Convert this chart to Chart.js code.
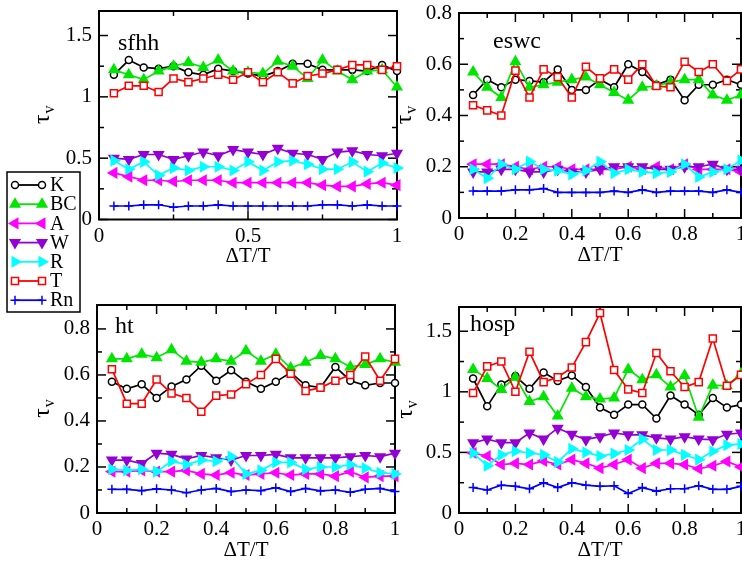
<!DOCTYPE html>
<html>
<head>
<meta charset="UTF-8">
<title>tau_v vs dT/T</title>
<script src="https://cdn.jsdelivr.net/npm/chart.js@4"></script>
<style>
  body { margin: 0; background: #fff; overflow: hidden; }
  #wrap { position: relative; width: 742px; height: 562px; }
  canvas { position: absolute; left: 0; top: 0; }
</style>
</head>
<body>
<div id="wrap">
  <canvas id="c1" width="742" height="562"></canvas>
  <canvas id="c2" width="742" height="562"></canvas>
  <canvas id="c3" width="742" height="562"></canvas>
  <canvas id="c4" width="742" height="562"></canvas>
</div>
<script>
// x values (Delta T / T)
const dT = [0.05, 0.10, 0.15, 0.20, 0.25, 0.30, 0.35, 0.40, 0.45, 0.50,
            0.55, 0.60, 0.65, 0.70, 0.75, 0.80, 0.85, 0.90, 0.95, 1.00];
const seriesNames = ['K', 'BC', 'A', 'W', 'R', 'T', 'Rn'];

// sfhh
const sfhhK  = [1.18,1.30,1.24,1.23,1.25,1.20,1.18,1.23,1.21,1.19,1.17,1.21,1.27,1.27,1.22,1.22,1.22,1.21,1.26,1.21];
const sfhhBC = [1.22,1.18,1.14,1.21,1.25,1.28,1.24,1.30,1.21,1.20,1.19,1.29,1.25,1.15,1.30,1.21,1.14,1.21,1.22,1.08];
const sfhhA  = [0.38,0.35,0.32,0.32,0.31,0.32,0.32,0.32,0.30,0.30,0.30,0.30,0.30,0.30,0.28,0.27,0.27,0.29,0.30,0.28];
const sfhhW  = [0.50,0.49,0.53,0.53,0.49,0.52,0.55,0.52,0.57,0.55,0.53,0.58,0.54,0.53,0.49,0.55,0.56,0.53,0.52,0.54];
const sfhhR  = [0.48,0.41,0.47,0.36,0.42,0.40,0.43,0.43,0.40,0.47,0.40,0.47,0.48,0.45,0.41,0.41,0.47,0.39,0.46,0.42];
const sfhhT  = [1.03,1.09,1.09,1.04,1.15,1.12,1.15,1.18,1.14,1.20,1.12,1.20,1.11,1.17,1.19,1.22,1.26,1.26,1.22,1.25];
const sfhhRn = [0.11,0.11,0.12,0.12,0.10,0.11,0.11,0.12,0.11,0.11,0.11,0.11,0.11,0.11,0.12,0.12,0.11,0.12,0.11,0.11];

// eswc
const eswcK  = [0.48,0.54,0.51,0.54,0.535,0.53,0.58,0.50,0.50,0.54,0.51,0.60,0.57,0.52,0.54,0.46,0.52,0.52,0.54,0.52];
const eswcBC = [0.57,0.51,0.47,0.61,0.51,0.52,0.53,0.54,0.55,0.52,0.49,0.46,0.51,0.515,0.53,0.54,0.54,0.48,0.46,0.48];
const eswcA  = [0.21,0.21,0.21,0.20,0.19,0.20,0.20,0.19,0.19,0.19,0.19,0.20,0.19,0.20,0.19,0.21,0.19,0.19,0.19,0.18];
const eswcW  = [0.18,0.18,0.19,0.19,0.18,0.18,0.19,0.18,0.18,0.19,0.20,0.20,0.20,0.19,0.19,0.20,0.20,0.21,0.19,0.19];
const eswcR  = [0.19,0.155,0.21,0.19,0.22,0.19,0.185,0.17,0.185,0.22,0.175,0.19,0.18,0.175,0.18,0.21,0.16,0.18,0.19,0.225];
const eswcT  = [0.44,0.42,0.40,0.575,0.47,0.58,0.55,0.47,0.59,0.545,0.58,0.54,0.60,0.515,0.51,0.61,0.57,0.60,0.535,0.58];
const eswcRn = [0.105,0.105,0.105,0.11,0.11,0.115,0.10,0.10,0.10,0.10,0.105,0.10,0.11,0.10,0.105,0.105,0.105,0.10,0.11,0.10];

// ht
const htK  = [0.57,0.54,0.56,0.50,0.55,0.58,0.64,0.575,0.62,0.57,0.54,0.57,0.61,0.555,0.545,0.635,0.575,0.555,0.565,0.565];
const htBC = [0.67,0.67,0.69,0.675,0.71,0.66,0.655,0.67,0.66,0.705,0.66,0.69,0.63,0.655,0.685,0.67,0.635,0.645,0.67,0.655];
const htA  = [0.18,0.18,0.185,0.18,0.18,0.185,0.17,0.165,0.175,0.165,0.17,0.175,0.165,0.17,0.17,0.16,0.18,0.155,0.16,0.16];
const htW  = [0.23,0.23,0.215,0.26,0.255,0.235,0.25,0.24,0.23,0.25,0.25,0.255,0.24,0.24,0.24,0.24,0.245,0.25,0.245,0.26];
const htR  = [0.19,0.185,0.19,0.18,0.225,0.21,0.23,0.225,0.245,0.17,0.185,0.22,0.22,0.19,0.20,0.20,0.21,0.195,0.175,0.17];
const htT  = [0.625,0.475,0.475,0.58,0.52,0.50,0.44,0.51,0.515,0.56,0.60,0.67,0.605,0.53,0.545,0.575,0.60,0.68,0.575,0.67];
const htRn = [0.103,0.103,0.097,0.105,0.10,0.088,0.10,0.107,0.093,0.10,0.097,0.11,0.093,0.107,0.096,0.10,0.09,0.103,0.107,0.093];

// hosp
const hospK  = [1.11,0.88,1.06,1.13,1.025,1.16,1.09,1.135,1.04,0.87,0.81,0.895,0.895,0.78,0.97,0.895,0.81,0.95,0.87,0.895];
const hospBC = [1.185,1.11,1.02,1.12,0.92,0.96,0.80,1.03,0.96,0.94,0.95,1.185,1.10,1.14,1.04,1.135,0.79,1.055,1.05,1.15];
const hospA  = [0.495,0.47,0.40,0.41,0.40,0.43,0.40,0.44,0.41,0.37,0.40,0.44,0.37,0.41,0.41,0.40,0.365,0.39,0.425,0.38];
const hospW  = [0.58,0.61,0.58,0.58,0.66,0.61,0.70,0.65,0.605,0.63,0.66,0.645,0.645,0.62,0.61,0.63,0.61,0.605,0.65,0.66];
const hospR  = [0.495,0.39,0.48,0.51,0.495,0.48,0.42,0.53,0.50,0.47,0.49,0.52,0.61,0.52,0.52,0.48,0.44,0.51,0.56,0.57];
const hospT  = [0.99,1.21,1.25,1.00,1.33,1.08,1.12,1.20,1.41,1.65,1.18,1.02,0.99,1.32,1.17,1.04,1.08,1.44,1.05,1.14];
const hospRn = [0.21,0.19,0.23,0.22,0.20,0.25,0.21,0.25,0.23,0.22,0.225,0.16,0.21,0.18,0.20,0.20,0.225,0.195,0.195,0.22];

// tick values
const xTicksHalf  = [0, 0.5, 1];
const xMinorHalf  = [0.25, 0.75];
const xTicksFifth = [0, 0.2, 0.4, 0.6, 0.8, 1];
const xMinorFifth = [0.1, 0.3, 0.5, 0.7, 0.9];
const yTicksBig   = [0, 0.5, 1, 1.5];
const yMinorBig   = [0.25, 0.75, 1.25];
const yTicksSmall = [0, 0.2, 0.4, 0.6, 0.8];
const yMinorSmall = [0.1, 0.3, 0.5, 0.7];

const W = 742, H = 562, YW = 50, XH = 30;
const SERIF = '"Liberation Serif", "Times New Roman", serif';

const styles = {
  K:  { color: '#000000', shape: 'circle',   r: 3.5, rot: 0,   fill: '#ffffff' },
  BC: { color: '#00e600', shape: 'triangle', r: 5.5, rot: 0,   fill: null },
  A:  { color: '#ff00ff', shape: 'triangle', r: 5.5, rot: 270, fill: null },
  W:  { color: '#9400d3', shape: 'triangle', r: 5.5, rot: 180, fill: null },
  R:  { color: '#00ffff', shape: 'triangle', r: 5.5, rot: 90,  fill: null },
  T:  { color: '#ff0000', shape: 'rect',     r: 5,   rot: 0,   fill: '#ffffff' },
  Rn: { color: '#0000ff', shape: 'cross',    r: 4.5, rot: 0,   fill: null }
};

const panels = [
  { id: 'c1', name: 'sfhh', values: [sfhhK, sfhhBC, sfhhA, sfhhW, sfhhR, sfhhT, sfhhRn],
    box: [99, 11, 397, 219.5], ymax: 1.7, xt: xTicksHalf, xm: xMinorHalf, yt: yTicksBig, ym: yMinorBig,
    nameAt: [118, 50], tauX: 45, legend: true },
  { id: 'c2', name: 'eswc', values: [eswcK, eswcBC, eswcA, eswcW, eswcR, eswcT, eswcRn],
    box: [459, 13, 741, 218], ymax: 0.8, xt: xTicksFifth, xm: xMinorFifth, yt: yTicksSmall, ym: yMinorSmall,
    nameAt: [493, 48], tauX: 407 },
  { id: 'c3', name: 'ht', values: [htK, htBC, htA, htW, htR, htT, htRn],
    box: [97, 305, 395, 513], ymax: 0.904, xt: xTicksFifth, xm: xMinorFifth, yt: yTicksSmall, ym: yMinorSmall,
    nameAt: [115, 333], tauX: 45 },
  { id: 'c4', name: 'hosp', values: [hospK, hospBC, hospA, hospW, hospR, hospT, hospRn],
    box: [459, 307, 741, 513], ymax: 1.7, xt: xTicksFifth, xm: xMinorFifth, yt: yTicksBig, ym: yMinorBig,
    nameAt: [470, 331], tauX: 408 }
];

function marker(ctx, s, x, y) {
  ctx.save();
  ctx.strokeStyle = s.color;
  ctx.fillStyle = s.fill || s.color;
  ctx.lineWidth = 1.5;
  Chart.helpers.drawPoint(ctx, { pointStyle: s.shape, radius: s.r, rotation: s.rot, borderWidth: 1.5 }, x, y);
  ctx.restore();
}

function drawLegend(ctx) {
  ctx.save();
  ctx.fillStyle = '#fff';
  ctx.fillRect(7, 172, 73, 140);
  ctx.strokeStyle = '#000';
  ctx.lineWidth = 1.5;
  ctx.strokeRect(7, 172, 73, 140);
  seriesNames.forEach((name, k) => {
    const s = styles[name];
    const y = 185 + 19.2 * k;
    ctx.strokeStyle = s.color;
    ctx.lineWidth = 1.8;
    ctx.beginPath(); ctx.moveTo(15, y); ctx.lineTo(42, y); ctx.stroke();
    marker(ctx, s, 15, y);
    marker(ctx, s, 42, y);
    ctx.fillStyle = '#000';
    ctx.font = '20px ' + SERIF;
    ctx.textBaseline = 'middle';
    ctx.textAlign = 'left';
    ctx.fillText(name, 50, y + 1);
  });
  ctx.restore();
}

function makePanel(p) {
  const [L, T, R, B] = p.box;
  const datasets = seriesNames.map((name, k) => {
    const s = styles[name];
    return {
      label: name,
      data: dT.map((x, i) => ({ x: x, y: p.values[k][i] })),
      borderColor: s.color,
      backgroundColor: s.fill || s.color,
      pointBackgroundColor: s.fill || s.color,
      pointBorderColor: s.color,
      pointStyle: s.shape,
      pointRadius: s.r,
      pointRotation: s.rot,
      pointBorderWidth: 1.5,
      borderWidth: 1.7,
      tension: 0,
      clip: false
    };
  }).reverse(); // first series drawn on top in Chart.js, so reverse

  const framePlugin = {
    id: 'frame',
    beforeDatasetsDraw(chart) {
      const ctx = chart.ctx, xs = chart.scales.x, ys = chart.scales.y;
      const a = chart.chartArea;
      ctx.save();
      ctx.strokeStyle = '#000';
      ctx.lineWidth = 1.5;
      const line = (x1, y1, x2, y2) => { ctx.beginPath(); ctx.moveTo(x1, y1); ctx.lineTo(x2, y2); ctx.stroke(); };
      const tx = (v, len) => { const x = xs.getPixelForValue(v); line(x, a.bottom, x, a.bottom - len); line(x, a.top, x, a.top + len); };
      const ty = (v, len) => { const y = ys.getPixelForValue(v); line(a.left, y, a.left + len, y); line(a.right, y, a.right - len, y); };
      p.xt.forEach(v => tx(v, 9));
      p.xm.forEach(v => tx(v, 5));
      p.yt.forEach(v => ty(v, 9));
      p.ym.forEach(v => ty(v, 5));
      ctx.lineWidth = 2;
      ctx.strokeRect(a.left, a.top, a.right - a.left, a.bottom - a.top);
      ctx.restore();
    },
    afterDraw(chart) {
      const ctx = chart.ctx, a = chart.chartArea;
      ctx.save();
      ctx.fillStyle = '#000';
      // panel name
      ctx.font = '24px ' + SERIF;
      ctx.textAlign = 'left';
      ctx.textBaseline = 'alphabetic';
      ctx.fillText(p.name, p.nameAt[0], p.nameAt[1]);
      // x title
      ctx.font = '21px ' + SERIF;
      ctx.textAlign = 'center';
      ctx.textBaseline = 'middle';
      ctx.fillText('\u0394T/T', (a.left + a.right) / 2, a.bottom + 37);
      // y title tau_v
      ctx.translate(p.tauX, (a.top + a.bottom) / 2);
      ctx.rotate(-Math.PI / 2);
      ctx.font = '24px ' + SERIF;
      ctx.textAlign = 'left';
      ctx.textBaseline = 'alphabetic';
      const tw = ctx.measureText('\u03c4').width;
      ctx.fillText('\u03c4', -tw / 2 - 4, 4);
      ctx.font = '16px ' + SERIF;
      ctx.fillText('v', tw / 2 - 3, 9);
      ctx.restore();
      if (p.legend) drawLegend(ctx);
    }
  };

  const tickFont = { family: SERIF, size: 21 };

  return new Chart(document.getElementById(p.id), {
    type: 'line',
    data: { datasets: datasets },
    options: {
      responsive: false,
      animation: false,
      devicePixelRatio: 1,
      events: [],
      layout: { autoPadding: false, padding: { left: L - YW, top: T, right: W - R, bottom: H - B - XH } },
      plugins: { legend: { display: false }, tooltip: { enabled: false } },
      scales: {
        x: {
          type: 'linear', min: 0, max: 1,
          grid: { display: false, drawTicks: false },
          border: { display: false },
          afterBuildTicks: sc => { sc.ticks = p.xt.map(v => ({ value: v })); },
          afterFit: sc => { sc.height = XH; sc.paddingLeft = 0; sc.paddingRight = 0; },
          ticks: { autoSkip: false, maxRotation: 0, padding: 4, color: '#000', font: tickFont,
                   callback: v => String(v) }
        },
        y: {
          type: 'linear', min: 0, max: p.ymax,
          grid: { display: false, drawTicks: false },
          border: { display: false },
          afterBuildTicks: sc => { sc.ticks = p.yt.map(v => ({ value: v })); },
          afterFit: sc => { sc.width = YW; sc.paddingTop = 0; sc.paddingBottom = 0; },
          ticks: { autoSkip: false, padding: 7, color: '#000', font: tickFont,
                   callback: v => String(v) }
        }
      }
    },
    plugins: [framePlugin]
  });
}

panels.forEach(makePanel);
</script>
</body>
</html>
